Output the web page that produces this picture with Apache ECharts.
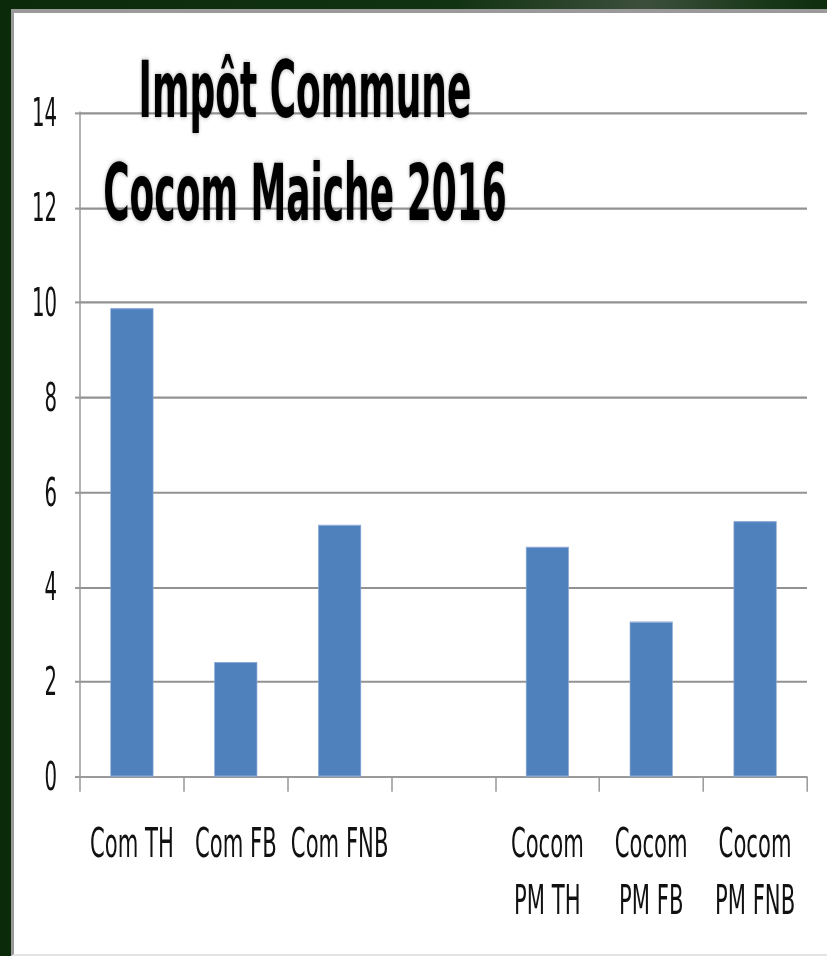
<!DOCTYPE html>
<html>
<head>
<meta charset="utf-8">
<script src="https://cdn.jsdelivr.net/npm/echarts@6/dist/echarts.min.js"></script>
<style>
  html, body { margin: 0; padding: 0; }
  body {
    width: 827px; height: 956px; overflow: hidden; position: relative;
    background: linear-gradient(90deg, #0a2a0a 0%, #123312 55%, #3c4f3c 78%, #1a381a 92%, #0d2d0d 100%);
  }
  #panel {
    position: absolute; left: 11px; top: 9px; right: 0; bottom: 0;
    background: #ffffff;
    border-top: 4px solid #9a9a9a; border-left: 3px solid #9a9a9a;
    border-bottom: 2px solid #e4e4e4;
    box-sizing: border-box;
  }
  #chart {
    position: absolute; left: 0; top: 0;
    transform-origin: 0 0;
  }
</style>
</head>
<body>
<div id="panel"></div>
<div id="chart"></div>
<script>
// Tax rates, commune vs. community of communes (Maîche, 2016)
const categories = ['Com TH', 'Com FB', 'Com FNB', '', 'Cocom\nPM TH', 'Cocom\nPM FB', 'Cocom\nPM FNB'];
const rates = [9.88, 2.42, 5.31, null, 4.85, 3.27, 5.39];
const yMin = 0, yMax = 14, yStep = 2;
const titleLines = ['Impôt Commune', 'Cocom Maiche 2016'];

// The chart is laid out in a wider, shorter box, then squeezed horizontally
// and stretched vertically to get tall, narrow lettering.
const SX = 0.8, SY = 1.4;
const W = 827 / SX, H = 956 / SY;
const px = v => v / SX;   // horizontal page pixels -> layout pixels
const py = v => v / SY;   // vertical page pixels -> layout pixels
const TITLE_SY = 1.12;    // extra vertical stretch for the heading

const el = document.getElementById('chart');
el.style.width = W + 'px';
el.style.height = H + 'px';
el.style.transform = 'scale(' + SX + ',' + SY + ')';

const font = "'Liberation Sans Narrow', 'DejaVu Sans Condensed', sans-serif";
const chart = echarts.init(el, null, { renderer: 'svg', width: W, height: H });
chart.setOption({
  animation: false,
  backgroundColor: 'transparent',
  graphic: [{
    type: 'text',
    x: px(305), y: py(38.5),
    scaleY: TITLE_SY,
    z: 100,
    style: {
      text: titleLines.join('\n'),
      fontFamily: font, fontWeight: 'bold', fontSize: 50,
      lineHeight: py(103) / TITLE_SY,
      align: 'center', verticalAlign: 'top',
      fill: '#000',
      textShadowColor: 'rgba(0,0,0,0.35)', textShadowBlur: 4
    }
  }],
  grid: { left: px(80), right: px(20), top: py(112.7), bottom: py(956 - 776.7), containLabel: false },
  xAxis: {
    type: 'category',
    data: categories,
    boundaryGap: true,
    axisLine: { show: true, lineStyle: { color: '#9a9a9a', width: 1.5 } },
    axisTick: { show: true, alignWithLabel: false, length: py(15), lineStyle: { color: '#9a9a9a', width: 1.9 } },
    axisLabel: {
      interval: 0, margin: py(38),
      fontFamily: font, fontSize: 29.4, lineHeight: py(57), color: '#111'
    }
  },
  yAxis: {
    type: 'value',
    min: yMin, max: yMax, interval: yStep,
    axisLine: { show: true, lineStyle: { color: '#9a9a9a', width: 1.9 } },
    axisTick: { show: true, length: px(5), lineStyle: { color: '#9a9a9a', width: 1.5 } },
    splitLine: { show: true, lineStyle: { color: '#929292', width: 1.5 } },
    axisLabel: { margin: px(23), fontFamily: font, fontSize: 27.4, color: '#111' }
  },
  series: [{
    type: 'bar',
    data: rates,
    barWidth: px(43),
    itemStyle: { color: '#4f81bd', borderColor: '#8eaad6', borderWidth: 0.8 }
  }]
});
</script>
</body>
</html>
